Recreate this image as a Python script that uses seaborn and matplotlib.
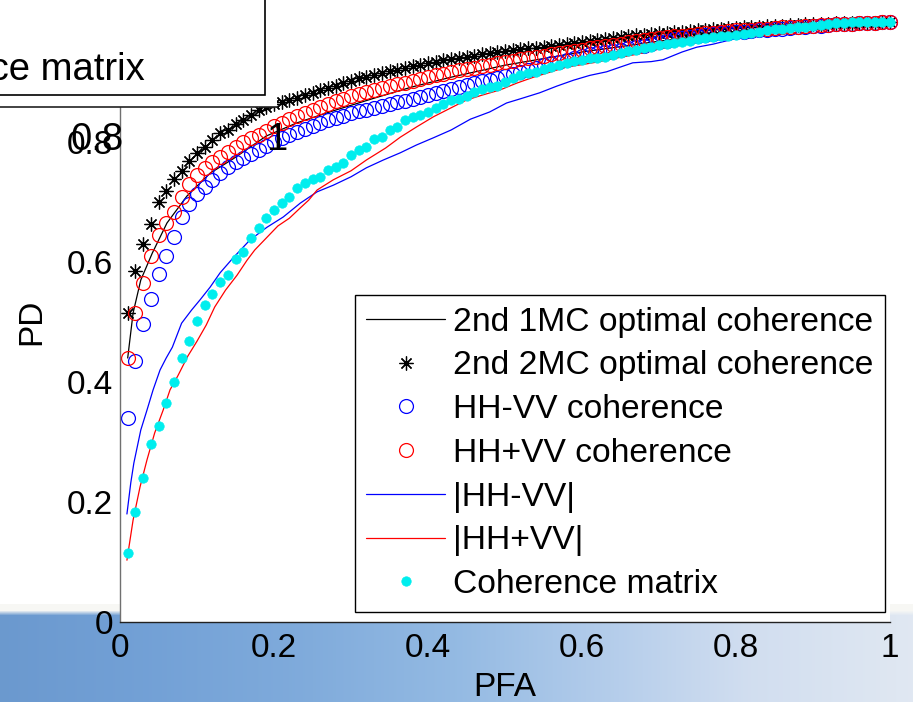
import numpy as np
import matplotlib
matplotlib.use("Agg")
import matplotlib.pyplot as plt
from matplotlib.patches import Rectangle
import seaborn as sns

sns.set_theme(style="white")
plt.rcParams["font.family"] = ["Liberation Sans", "DejaVu Sans"]
plt.rcParams["text.color"] = "black"

# ---------------------------------------------------------------------------
# ROC data: probability of false alarm (PFA) vs probability of detection (PD)
# ---------------------------------------------------------------------------
pfa_grid = [
    0.01, 0.02, 0.03, 0.04, 0.05, 0.06, 0.07, 0.08, 0.09, 0.10,
    0.11, 0.12, 0.13, 0.14, 0.15, 0.16, 0.17, 0.18, 0.19, 0.20,
    0.21, 0.22, 0.23, 0.24, 0.25, 0.26, 0.27, 0.28, 0.29, 0.30,
    0.31, 0.32, 0.33, 0.34, 0.35, 0.36, 0.37, 0.38, 0.39, 0.40,
    0.41, 0.42, 0.43, 0.44, 0.45, 0.46, 0.47, 0.48, 0.49, 0.50,
    0.51, 0.52, 0.53, 0.54, 0.55, 0.56, 0.57, 0.58, 0.59, 0.60,
    0.61, 0.62, 0.63, 0.64, 0.65, 0.66, 0.67, 0.68, 0.69, 0.70,
    0.71, 0.72, 0.73, 0.74, 0.75, 0.76, 0.77, 0.78, 0.79, 0.80,
    0.81, 0.82, 0.83, 0.84, 0.85, 0.86, 0.87, 0.88, 0.89, 0.90,
    0.91, 0.92, 0.93, 0.94, 0.95, 0.96, 0.97, 0.98, 0.99, 1.00,
]

pd_2mc = [
    0.515, 0.585, 0.630, 0.663, 0.700, 0.718, 0.738, 0.752, 0.768, 0.782,
    0.792, 0.803, 0.815, 0.820, 0.830, 0.837, 0.845, 0.853, 0.858, 0.863,
    0.867, 0.870, 0.874, 0.878, 0.882, 0.886, 0.890, 0.894, 0.898, 0.902,
    0.906, 0.909, 0.912, 0.915, 0.918, 0.920, 0.923, 0.926, 0.929, 0.931,
    0.934, 0.936, 0.938, 0.940, 0.942, 0.944, 0.946, 0.948, 0.950, 0.951,
    0.953, 0.955, 0.956, 0.957, 0.958, 0.960, 0.962, 0.963, 0.965, 0.966,
    0.968, 0.970, 0.971, 0.973, 0.975, 0.976, 0.978, 0.979, 0.980, 0.981,
    0.982, 0.983, 0.984, 0.985, 0.986, 0.987, 0.988, 0.989, 0.990, 0.990,
    0.991, 0.992, 0.992, 0.993, 0.994, 0.994, 0.995, 0.995, 0.996, 0.996,
    0.997, 0.997, 0.998, 0.998, 0.998, 0.999, 0.999, 0.999, 1.000, 1.000,
]

pd_hhvv_minus_coh = [
    0.340, 0.435, 0.497, 0.538, 0.580, 0.610, 0.642, 0.675, 0.697, 0.713,
    0.725, 0.737, 0.748, 0.758, 0.766, 0.773, 0.780, 0.787, 0.794, 0.800,
    0.806, 0.811, 0.816, 0.821, 0.826, 0.831, 0.836, 0.840, 0.844, 0.848,
    0.851, 0.854, 0.857, 0.860, 0.863, 0.866, 0.869, 0.872, 0.875, 0.878,
    0.881, 0.885, 0.889, 0.892, 0.895, 0.898, 0.901, 0.904, 0.907, 0.910,
    0.913, 0.916, 0.920, 0.924, 0.928, 0.931, 0.934, 0.937, 0.940, 0.943,
    0.946, 0.948, 0.950, 0.952, 0.954, 0.956, 0.958, 0.960, 0.963, 0.966,
    0.969, 0.971, 0.973, 0.975, 0.977, 0.979, 0.980, 0.981, 0.982, 0.983,
    0.984, 0.985, 0.986, 0.987, 0.988, 0.989, 0.990, 0.991, 0.992, 0.993,
    0.994, 0.995, 0.996, 0.997, 0.997, 0.998, 0.998, 0.999, 1.000, 1.000,
]

pd_hhvv_plus_coh = [
    0.440, 0.515, 0.565, 0.610, 0.645, 0.665, 0.683, 0.708, 0.730, 0.745,
    0.757, 0.767, 0.775, 0.784, 0.792, 0.800, 0.806, 0.812, 0.819, 0.826,
    0.832, 0.838, 0.843, 0.848, 0.853, 0.858, 0.863, 0.868, 0.872, 0.876,
    0.880, 0.884, 0.887, 0.890, 0.893, 0.896, 0.899, 0.902, 0.905, 0.908,
    0.911, 0.914, 0.917, 0.920, 0.922, 0.924, 0.927, 0.929, 0.931, 0.933,
    0.935, 0.938, 0.940, 0.942, 0.944, 0.946, 0.948, 0.950, 0.952, 0.954,
    0.956, 0.958, 0.960, 0.962, 0.964, 0.966, 0.968, 0.970, 0.972, 0.973,
    0.975, 0.976, 0.977, 0.979, 0.980, 0.981, 0.982, 0.983, 0.985, 0.986,
    0.987, 0.987, 0.988, 0.989, 0.990, 0.991, 0.991, 0.992, 0.993, 0.994,
    0.995, 0.995, 0.996, 0.997, 0.997, 0.998, 0.999, 0.999, 1.000, 1.000,
]

pd_coh_matrix = [
    0.115, 0.183, 0.240, 0.297, 0.327, 0.365, 0.400, 0.440, 0.468, 0.502,
    0.528, 0.547, 0.567, 0.578, 0.605, 0.617, 0.640, 0.657, 0.673, 0.687,
    0.698, 0.708, 0.723, 0.732, 0.738, 0.742, 0.753, 0.758, 0.765, 0.778,
    0.787, 0.792, 0.805, 0.808, 0.820, 0.825, 0.837, 0.842, 0.845, 0.850,
    0.857, 0.863, 0.870, 0.872, 0.877, 0.883, 0.888, 0.892, 0.893, 0.900,
    0.907, 0.912, 0.915, 0.917, 0.922, 0.925, 0.928, 0.932, 0.935, 0.937,
    0.940, 0.940, 0.942, 0.945, 0.948, 0.951, 0.953, 0.956, 0.958, 0.961,
    0.963, 0.965, 0.967, 0.969, 0.972, 0.974, 0.975, 0.976, 0.977, 0.978,
    0.980, 0.982, 0.984, 0.986, 0.988, 0.989, 0.990, 0.991, 0.992, 0.994,
    0.995, 0.997, 0.998, 0.999, 1.000, 1.000, 1.000, 1.000, 1.000, 1.000,
]

pfa_1mc = [0.010, 0.017, 0.027, 0.042, 0.061, 0.087, 0.117, 0.147, 0.190,
           0.230, 0.277, 0.330, 0.380, 0.430, 0.500, 0.600, 0.700, 0.800,
           0.900, 1.000]
pd_1mc = [0.440, 0.515, 0.570, 0.615, 0.665, 0.710, 0.748, 0.772, 0.810,
          0.832, 0.852, 0.873, 0.892, 0.908, 0.928, 0.950, 0.968, 0.983,
          0.994, 1.000]

pfa_abs_minus = [0.009, 0.014, 0.018, 0.027, 0.035, 0.043, 0.052, 0.060,
                 0.068, 0.080, 0.093, 0.104, 0.117, 0.130, 0.147, 0.169,
                 0.191, 0.212, 0.234, 0.256, 0.277, 0.300, 0.320, 0.342,
                 0.364, 0.385, 0.407, 0.430, 0.455, 0.480, 0.502, 0.520,
                 0.545, 0.567, 0.589, 0.610, 0.632, 0.650, 0.666, 0.690,
                 0.705, 0.730, 0.749, 0.770, 0.792, 0.820, 0.844, 0.870,
                 0.900, 0.950, 1.000]
pd_abs_minus = [0.180, 0.232, 0.265, 0.320, 0.353, 0.387, 0.420, 0.440,
                0.458, 0.498, 0.520, 0.537, 0.558, 0.582, 0.607, 0.637,
                0.658, 0.675, 0.698, 0.717, 0.728, 0.742, 0.757, 0.770,
                0.782, 0.795, 0.807, 0.820, 0.838, 0.850, 0.865, 0.872,
                0.882, 0.893, 0.903, 0.911, 0.917, 0.925, 0.932, 0.934,
                0.937, 0.950, 0.958, 0.963, 0.970, 0.978, 0.983, 0.987,
                0.991, 0.996, 1.000]

pfa_abs_plus = [0.009, 0.017, 0.026, 0.035, 0.045, 0.056, 0.065, 0.075,
                0.088, 0.100, 0.112, 0.123, 0.137, 0.152, 0.165, 0.175,
                0.190, 0.205, 0.220, 0.234, 0.245, 0.256, 0.277, 0.300,
                0.320, 0.345, 0.364, 0.385, 0.407, 0.430, 0.450, 0.470,
                0.494, 0.515, 0.537, 0.560, 0.580, 0.600, 0.623, 0.645,
                0.670, 0.700, 0.750, 0.800, 0.850, 0.900, 0.950, 1.000]
pd_abs_plus = [0.103, 0.170, 0.225, 0.270, 0.315, 0.353, 0.387, 0.410,
               0.443, 0.468, 0.495, 0.525, 0.553, 0.578, 0.603, 0.620,
               0.640, 0.660, 0.673, 0.690, 0.703, 0.720, 0.737, 0.752,
               0.770, 0.790, 0.808, 0.825, 0.842, 0.857, 0.870, 0.878,
               0.887, 0.898, 0.908, 0.917, 0.925, 0.929, 0.934, 0.940,
               0.946, 0.955, 0.966, 0.978, 0.986, 0.992, 0.997, 1.000]

series_labels = ["2nd 1MC optimal coherence", "2nd 2MC optimal coherence",
                 "HH-VV coherence", "HH+VV coherence", "|HH-VV|", "|HH+VV|",
                 "Coherence matrix"]
tick_values = [0, 0.2, 0.4, 0.6, 0.8, 1]
tick_labels = ["0", "0.2", "0.4", "0.6", "0.8", "1"]

# ---------------------------------------------------------------------------
W, H = 913, 702
fig = plt.figure(figsize=(W / 100, H / 100), dpi=100)
fig.patch.set_facecolor("white")


def px_rect(x0, y0, x1, y1):
    """Figure-fraction rectangle from pixel corners measured from top-left."""
    return [x0 / W, 1 - y1 / H, (x1 - x0) / W, (y1 - y0) / H]


# blue slide backdrop along the bottom edge
bg = fig.add_axes(px_rect(0, 604, W, H), zorder=-5)
cols = np.linspace(0, 1, W)
anchor_x = [0.0, 0.16, 0.33, 0.50, 0.66, 0.82, 1.0]
anchor_rgb = np.array([[0.42, 0.60, 0.81], [0.45, 0.63, 0.84],
                       [0.50, 0.67, 0.86], [0.58, 0.73, 0.89],
                       [0.70, 0.80, 0.92], [0.82, 0.87, 0.94],
                       [0.88, 0.91, 0.95]])
row_rgb = np.stack([np.interp(cols, anchor_x, anchor_rgb[:, c]) for c in range(3)], -1)
nrows = H - 604
fade = np.clip((np.arange(nrows) - 6) / 5.0, 0, 1)[:, None, None]
top_rgb = np.array([0.97, 0.97, 0.96])
img = top_rgb * (1 - fade) + row_rgb[None, :, :] * fade
bg.imshow(img, aspect="auto", interpolation="bilinear")
bg.set_axis_off()

# main ROC axes
ax = fig.add_axes(px_rect(120, 22, 890, 622), zorder=1)
ax.set_facecolor("white")

sns.lineplot(x=pfa_1mc, y=pd_1mc, ax=ax, color="black", lw=0.9,
             sort=False, estimator=None, label=series_labels[0])
sns.lineplot(x=pfa_grid, y=pd_2mc, ax=ax, color="black", ls="", lw=0,
             marker=(8, 2, 0), ms=10, mec="black", mew=0.9,
             sort=False, estimator=None, label=series_labels[1])
sns.lineplot(x=pfa_grid, y=pd_hhvv_minus_coh, ax=ax, color="blue", ls="", lw=0,
             marker="o", ms=10, mfc="none", mec="blue", mew=0.9,
             sort=False, estimator=None, label=series_labels[2])
sns.lineplot(x=pfa_grid, y=pd_hhvv_plus_coh, ax=ax, color="red", ls="", lw=0,
             marker="o", ms=10, mfc="none", mec="red", mew=0.9,
             sort=False, estimator=None, label=series_labels[3])
sns.lineplot(x=pfa_abs_minus, y=pd_abs_minus, ax=ax, color="blue", lw=0.9,
             sort=False, estimator=None, label=series_labels[4])
sns.lineplot(x=pfa_abs_plus, y=pd_abs_plus, ax=ax, color="red", lw=0.9,
             sort=False, estimator=None, label=series_labels[5])
sns.lineplot(x=pfa_grid, y=pd_coh_matrix, ax=ax, color="cyan", ls="", lw=0,
             marker="o", ms=6.8, mfc="#00eeee", mec="#00eeee", mew=0.5,
             sort=False, estimator=None, label=series_labels[6])
for ln in ax.lines:
    ln.set_clip_on(False)

ax.set_xlim(0, 1)
ax.set_ylim(0, 1)
ax.set_xticks(tick_values, tick_labels)
ax.set_yticks(tick_values, tick_labels)
ax.tick_params(axis="both", direction="in", length=5.8, width=0.8,
               color="#333333", labelsize=24, labelcolor="black")
ax.tick_params(axis="x", pad=8)
ax.tick_params(axis="y", pad=5)
for side in ("top", "right"):
    ax.spines[side].set_visible(False)
ax.spines["left"].set_color("#707070")
ax.spines["bottom"].set_color("#222222")
for side in ("left", "bottom"):
    ax.spines[side].set_linewidth(1.0)

xl = ax.set_xlabel("PFA", fontsize=24, color="black")
ax.xaxis.set_label_coords(0.5, (622 - 687) / 600)
xl.set_va("center")
yl = ax.set_ylabel("PD", fontsize=24, color="black")
ax.yaxis.set_label_coords((32 - 120) / 770, 0.5)
yl.set_va("center")

handles, labels = ax.get_legend_handles_labels()
leg = ax.legend(handles, labels, loc="lower right",
                bbox_to_anchor=((885 - 120) / 770, (622 - 612) / 600),
                borderaxespad=0, fontsize=24.2, frameon=True, fancybox=False,
                edgecolor="black", framealpha=1, numpoints=1,
                handlelength=2.33, handletextpad=0.24, labelspacing=0.38,
                borderpad=0.35, labelcolor="black")
leg.get_frame().set_linewidth(1.0)

# second, larger copy of the panel stacked on top (only its lower-right corner shows)
ov = fig.add_axes(px_rect(-623, -593, 277, 107), zorder=3)
ov.set_facecolor("white")
ov.set_xlim(0, 1)
ov.set_ylim(0, 1)
ov.set_xticks(tick_values, tick_labels)
ov.set_yticks([])
ov.tick_params(axis="x", direction="in", length=7, width=0.8,
               color="#222222", labelsize=27.5, labelcolor="black", pad=11)
for side in ("top", "right", "left"):
    ov.spines[side].set_visible(False)
ov.spines["bottom"].set_color("#222222")
ov.spines["bottom"].set_linewidth(1.2)
ov.add_patch(Rectangle((0.3, (107 - 95) / 700), (265 + 623) / 900 - 0.3, 0.5,
                       transform=ov.transAxes, facecolor="white",
                       edgecolor="black", lw=1.2, clip_on=False))
ov.text((145 + 623) / 900, (107 - 80) / 700, series_labels[6],
        transform=ov.transAxes, ha="right", va="baseline",
        fontsize=27.5, color="black")

fig.savefig("out.png", dpi=100, facecolor=fig.get_facecolor())
